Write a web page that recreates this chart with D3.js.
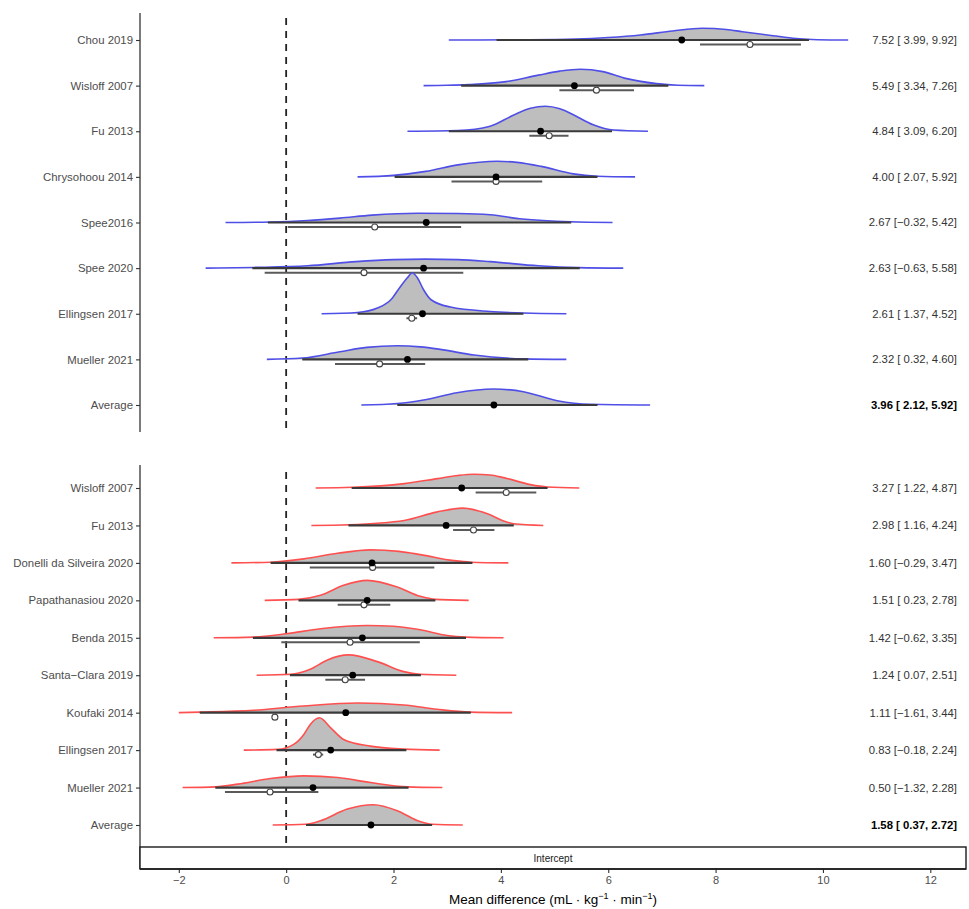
<!DOCTYPE html>
<html>
<head>
<meta charset="utf-8">
<script src="https://cdn.jsdelivr.net/npm/d3@7"></script>
<style>
  html, body { margin: 0; padding: 0; background: #fff; }
  svg { display: block; font-family: "Liberation Sans", Arial, sans-serif; }
</style>
</head>
<body>
<svg id="chart" width="969" height="909"></svg>
<script>
// ---------------- DATA ----------------
const xTicks = [-2, 0, 2, 4, 6, 8, 10, 12];

// Top panel
const topStudies = ["Chou 2019", "Wisloff 2007", "Fu 2013", "Chrysohoou 2014", "Spee2016", "Spee 2020", "Ellingsen 2017", "Mueller 2021", "Average"];
const topEst = [7.52, 5.49, 4.84, 4.00, 2.67, 2.63, 2.61, 2.32, 3.96];
const topLo  = [3.99, 3.34, 3.09, 2.07, -0.32, -0.63, 1.37, 0.32, 2.12];
const topHi  = [9.92, 7.26, 6.20, 5.92, 5.42, 5.58, 4.52, 4.60, 5.92];
const topDot   = [7.37, 5.37, 4.74, 3.91, 2.61, 2.56, 2.54, 2.26, 3.87];
const topIntLo = [3.92, 3.26, 3.03, 2.02, -0.34, -0.63, 1.33, 0.30, 2.07];
const topIntHi = [9.74, 7.12, 6.07, 5.80, 5.31, 5.47, 4.42, 4.51, 5.80];
const topObs   = [8.64, 5.78, 4.90, 3.91, 1.65, 1.45, 2.34, 1.74, null];
const topObsLo = [7.71, 5.09, 4.53, 3.08, 0.03, -0.40, 2.24, 0.91, null];
const topObsHi = [9.59, 6.48, 5.26, 4.77, 3.26, 3.30, 2.44, 2.59, null];
const topDens = [
  [[3.03,0],[4.5,0.3],[5.4,1],[6.0,2.5],[6.6,5],[7.2,9],[7.75,11.7],[8.2,10.5],[8.5,8.3],[9.07,4.3],[9.5,1.5],[9.9,0.3],[10.47,0]],
  [[2.56,0],[3.0,0.3],[3.4,1],[4.1,4],[4.7,10.5],[5.1,14.5],[5.48,16.4],[5.9,14],[6.3,7.5],[6.9,2],[7.3,0.4],[7.79,0]],
  [[2.26,0],[3.2,0.7],[3.8,5],[4.23,16],[4.55,23],[4.83,25],[5.1,22.5],[5.35,16.5],[5.72,6.5],[6.1,1.2],[6.74,0]],
  [[1.33,0],[2.0,1.5],[2.6,5.5],[3.2,12],[3.93,15.6],[4.3,14.5],[4.75,10.5],[5.35,3],[5.8,0.7],[6.5,0]],
  [[-1.13,0],[-0.3,0.5],[0.4,2],[1.0,4.4],[1.6,7.4],[2.45,9.3],[3.2,9],[3.8,7.7],[4.4,3.5],[5.3,0.7],[6.08,0]],
  [[-1.5,0],[-0.6,0.7],[0.4,2.3],[1.3,6.5],[2.0,8.5],[2.6,9],[3.2,8.5],[3.8,6.5],[4.7,2.3],[5.45,0.5],[6.28,0]],
  [[0.66,0],[1.33,1.3],[1.7,5.7],[1.95,14],[2.1,25],[2.25,35.5],[2.35,40.7],[2.45,35.5],[2.56,24],[2.7,14],[3.06,6.7],[3.8,2.3],[4.43,0.7],[5.22,0]],
  [[-0.36,0],[0.3,1.3],[1.0,7.6],[1.5,12],[2.07,13.6],[2.5,12.5],[2.87,10],[3.5,4.3],[4.43,0.5],[5.22,0]],
  [[1.4,0],[2.07,1.5],[2.56,5],[3.18,12.3],[3.86,16],[4.42,13.3],[5.05,4.3],[5.66,0.7],[6.78,0]]
];

// Bottom panel
const botStudies = ["Wisloff 2007", "Fu 2013", "Donelli da Silveira 2020", "Papathanasiou 2020", "Benda 2015", "Santa\u2212Clara 2019", "Koufaki 2014", "Ellingsen 2017", "Mueller 2021", "Average"];
const botEst = [3.27, 2.98, 1.60, 1.51, 1.42, 1.24, 1.11, 0.83, 0.50, 1.58];
const botLo  = [1.22, 1.16, -0.29, 0.23, -0.62, 0.07, -1.61, -0.18, -1.32, 0.37];
const botHi  = [4.87, 4.24, 3.47, 2.78, 3.35, 2.51, 3.44, 2.24, 2.28, 2.72];
const botObs   = [4.10, 3.49, 1.61, 1.45, 1.19, 1.10, -0.21, 0.60, -0.30, null];
const botObsLo = [3.53, 3.11, 0.44, 0.96, -0.09, 0.73, null, 0.50, -1.14, null];
const botObsHi = [4.66, 3.88, 2.76, 1.94, 2.49, 1.47, null, 0.69, 0.60, null];
const botDens = [
  [[0.55,0],[1.24,0.7],[2.2,4.4],[2.82,9.4],[3.2,12.5],[3.5,13.7],[3.8,13],[4.05,10.4],[4.55,3.4],[4.87,1],[5.46,0]],
  [[0.47,0],[1.16,0.7],[2.2,5],[2.8,13.3],[3.28,17.3],[3.75,11.7],[4.05,4.5],[4.24,1.7],[4.79,0]],
  [[-1.02,0],[-0.29,0.7],[0.33,4],[0.96,9.6],[1.57,13],[2.1,11.5],[2.5,8.3],[3.12,2.3],[3.43,0.7],[4.14,0]],
  [[-0.4,0],[0.23,1],[0.64,5],[1.07,15],[1.51,20],[2.07,13.3],[2.5,4],[2.78,1],[3.4,0]],
  [[-1.35,0],[-0.61,0.7],[0,4],[0.64,9],[1.51,12.3],[2.0,11.5],[2.5,8],[3.0,2.3],[3.34,0.7],[4.05,0]],
  [[-0.55,0],[0.08,1],[0.45,6],[0.77,15.3],[1.16,20.3],[1.7,13.6],[2.19,3.6],[2.49,1],[3.17,0]],
  [[-2.0,0],[-1.6,0.5],[-0.6,2.4],[0.32,6.7],[1.33,9.7],[2.19,7.7],[2.81,3.4],[3.43,0.5],[4.21,0]],
  [[-0.79,0],[-0.16,0.7],[0.14,5.7],[0.33,15.7],[0.45,25.7],[0.62,32.3],[0.83,22.3],[1.07,10.7],[1.57,4],[2.19,1],[2.86,0]],
  [[-1.93,0],[-1.31,0.7],[-0.9,3.4],[-0.29,9],[0.33,11.7],[0.96,10],[1.57,5],[2.26,0.7],[2.91,0]],
  [[-0.25,0],[0.36,0.7],[0.64,4.3],[1.14,16],[1.63,20.3],[2.07,14.3],[2.45,4.3],[2.72,0.7],[3.29,0]]
];

const stripLabel = "Intercept";

// ---------------- LAYOUT ----------------
const svg = d3.select("#chart");
const panelLeft = 140, panelRight = 966;
const x = d3.scaleLinear().domain([-2, 12]).range([178.8, 930.3]);
const h = d3.scaleLinear().domain([0, 50]).range([0, 50]);

const fmt = d3.format(".2f");
const sgn = v => v < 0 ? "\u2212" + fmt(-v) : fmt(v);
const labelText = (e, l, u) => `${sgn(e)} [${l < 0 ? "" : " "}${sgn(l)}, ${sgn(u)}]`;

function drawPanel(cfg) {
  const g = svg.append("g");
  const y = d3.scalePoint().domain(cfg.studies).range(cfg.rowRange);

  // dashed zero line
  g.append("line")
    .attr("x1", x(0)).attr("x2", x(0))
    .attr("y1", cfg.dashTop).attr("y2", cfg.dashBottom)
    .attr("stroke", "#222").attr("stroke-width", 1.8)
    .attr("stroke-dasharray", "7,6");

  // left axis
  const ax = d3.axisLeft(y).tickSize(4).tickSizeOuter(0).tickPadding(3);
  const axG = g.append("g").attr("transform", `translate(${panelLeft},0)`).call(ax);
  axG.select(".domain").remove();
  axG.selectAll(".tick line").attr("stroke", "#333").attr("stroke-width", 1.1);
  axG.selectAll(".tick text").attr("fill", "#4d4d4d").attr("font-size", 11.4)
    .attr("font-family", "Liberation Sans, Arial, sans-serif");
  g.append("line").attr("x1", panelLeft).attr("x2", panelLeft)
    .attr("y1", cfg.axisTop).attr("y2", cfg.axisBottom)
    .attr("stroke", "#333").attr("stroke-width", 1.3);

  const area = d3.area().curve(d3.curveMonotoneX);
  const line = d3.line().curve(d3.curveMonotoneX);

  cfg.studies.forEach((s, i) => {
    const base = y(s);
    const dens = cfg.dens[i];
    area.x(d => x(d[0])).y0(base).y1(d => base - h(d[1]));
    line.x(d => x(d[0])).y(d => base - h(d[1]));
    g.append("path").attr("d", area(dens)).attr("fill", "#bebebe").attr("stroke", "none");
    g.append("path").attr("d", line(dens)).attr("fill", "none")
      .attr("stroke", cfg.color).attr("stroke-width", 1.6);
    // posterior interval
    g.append("line")
      .attr("x1", x(cfg.intLo[i])).attr("x2", x(cfg.intHi[i]))
      .attr("y1", base).attr("y2", base)
      .attr("stroke", "#3a3a3a").attr("stroke-width", 2.2);
    // observed effect
    if (cfg.obs[i] !== null) {
      const oy = base + 4.5;
      if (cfg.obsLo[i] !== null) {
        g.append("line")
          .attr("x1", x(cfg.obsLo[i])).attr("x2", x(cfg.obsHi[i]))
          .attr("y1", oy).attr("y2", oy)
          .attr("stroke", "#5a5a5a").attr("stroke-width", 2);
      }
      g.append("circle").attr("cx", x(cfg.obs[i])).attr("cy", oy).attr("r", 3)
        .attr("fill", "#fff").attr("stroke", "#444").attr("stroke-width", 1.1);
    }
    // posterior point
    g.append("circle").attr("cx", x(cfg.dot[i])).attr("cy", base).attr("r", 3.4)
      .attr("fill", "#000");
    // right label
    g.append("text")
      .attr("x", 957).attr("y", base).attr("dy", "0.35em")
      .attr("text-anchor", "end").attr("font-size", 11.3)
      .attr("fill", s === "Average" ? "#000" : "#333")
      .attr("font-weight", s === "Average" ? "bold" : "normal")
      .text(labelText(cfg.est[i], cfg.lo[i], cfg.hi[i]));
  });
}

drawPanel({
  studies: topStudies, est: topEst, lo: topLo, hi: topHi,
  dot: topDot, intLo: topIntLo, intHi: topIntHi,
  obs: topObs, obsLo: topObsLo, obsHi: topObsHi, dens: topDens,
  color: "#4f4fe8", rowRange: [40, 405],
  dashTop: 18, dashBottom: 432, axisTop: 13, axisBottom: 432
});

drawPanel({
  studies: botStudies, est: botEst, lo: botLo, hi: botHi,
  dot: botEst, intLo: botLo, intHi: botHi,
  obs: botObs, obsLo: botObsLo, obsHi: botObsHi, dens: botDens,
  color: "#ff5050", rowRange: [488, 825],
  dashTop: 472, dashBottom: 847, axisTop: 465, axisBottom: 869
});

// strip
svg.append("rect").attr("x", panelLeft).attr("y", 847)
  .attr("width", panelRight - panelLeft).attr("height", 22)
  .attr("fill", "#fff").attr("stroke", "#1a1a1a").attr("stroke-width", 1.4);
svg.append("text").attr("x", (panelLeft + panelRight) / 2).attr("y", 858).attr("dy", "0.35em")
  .attr("text-anchor", "middle").attr("font-size", 10).attr("fill", "#1a1a1a").text(stripLabel);

// x axis
const xAx = d3.axisBottom(x).tickValues(xTicks).tickSize(4).tickSizeOuter(0).tickPadding(3)
  .tickFormat(d => d < 0 ? "\u2212" + (-d) : String(d));
const xG = svg.append("g").attr("transform", "translate(0,869)").call(xAx);
xG.select(".domain").remove();
xG.selectAll(".tick line").attr("stroke", "#333").attr("stroke-width", 1.1);
xG.selectAll(".tick text").attr("fill", "#4d4d4d").attr("font-size", 11)
  .attr("font-family", "Liberation Sans, Arial, sans-serif");
svg.append("line").attr("x1", panelLeft).attr("x2", panelRight).attr("y1", 869).attr("y2", 869)
  .attr("stroke", "#1a1a1a").attr("stroke-width", 1.4);

// axis title
const title = svg.append("text").attr("x", (panelLeft + panelRight) / 2).attr("y", 904)
  .attr("text-anchor", "middle").attr("font-size", 13.5).attr("fill", "#000");
title.append("tspan").text("Mean difference (mL \u00b7 kg");
title.append("tspan").attr("dy", -5).attr("font-size", 9).text("\u22121");
title.append("tspan").attr("dy", 5).text(" \u00b7 min");
title.append("tspan").attr("dy", -5).attr("font-size", 9).text("\u22121");
title.append("tspan").attr("dy", 5).text(")");
</script>
</body>
</html>
